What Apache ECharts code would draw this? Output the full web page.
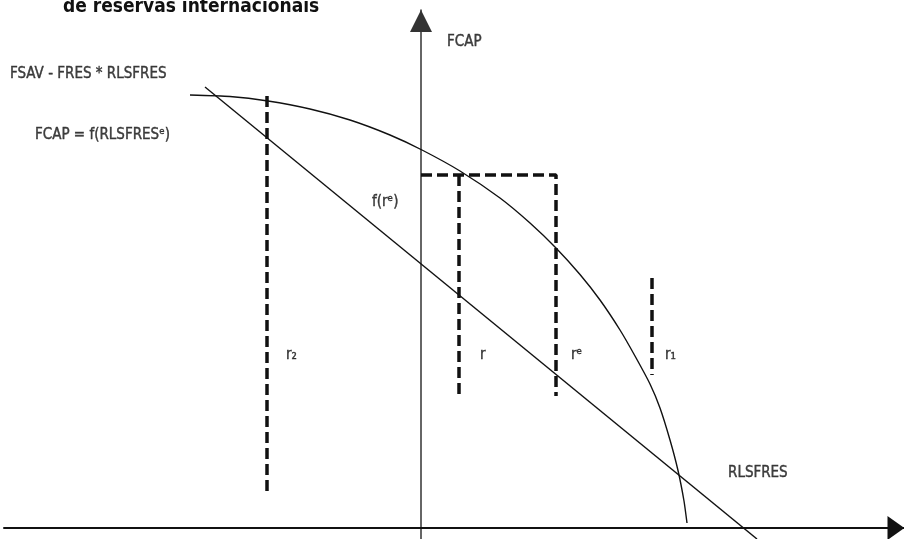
<!DOCTYPE html>
<html>
<head>
<meta charset="utf-8">
<script src="https://cdn.jsdelivr.net/npm/echarts@6/dist/echarts.min.js"></script>
<style>html,body{margin:0;padding:0;background:#fff}#c{width:904px;height:539px}</style>
</head>
<body>
<div id="c"></div>
<script>
// Curve FCAP = f(RLSFRES^e) (diagram units)
const curveX = [-23.1, -19.1, -15.3, -11.1, -7.1, -3.1, 0.1, 3.9, 7.9, 10.9, 13.5, 15.9, 17.9, 19.9, 21.4, 22.9, 23.9, 24.9, 25.7, 26.3, 26.6];
const curveY = [43.3, 43.15, 42.7, 41.9, 40.8, 39.3, 37.8, 35.7, 33.0, 30.5, 28.0, 25.35, 22.8, 19.8, 17.2, 14.4, 12.0, 8.8, 5.75, 2.7, 0.5];
// Straight line FSAV - FRES * RLSFRES
const lineX = [-21.6, 33.6];
const lineY = [44.1, -1.1];
// Dashed segments
const dashR2 = [[-15.4, 43.2], [-15.4, 3.6]];
const dashR = [[3.8, 35.3], [3.8, 13.2]];
const dashRe = [[0, 35.3], [13.5, 35.3], [13.5, 13.2]];
const dashR1 = [[23.1, 25.0], [23.1, 15.3]];
// Annotations: [x, y, text]
const labels = [
  [-41.1, 45.4, 'FSAV - FRES * RLSFRES'],
  [-38.6, 39.3, 'FCAP = f(RLSFRESᵉ)'],
  [-4.9, 32.6, 'f(rᵉ)'],
  [-13.5, 17.3, 'r₂'],
  [5.9, 17.3, 'r'],
  [15.0, 17.3, 'rᵉ'],
  [24.4, 17.3, 'r₁'],
  [30.7, 5.5, 'RLSFRES'],
  [2.6, 48.6, 'FCAP']
];
const titleText = 'de reservas internacionais';

const FONT = "'DejaVu Sans Condensed', 'DejaVu Sans', sans-serif";
const INK = '#111';
const chart = echarts.init(document.getElementById('c'));
const dashStyle = {color: INK, width: 3.5, type: [11, 5]};
function seg(d) {
  return {type: 'line', data: d, symbol: 'none', lineStyle: dashStyle, silent: true, animation: false};
}
chart.setOption({
  animation: false,
  grid: {left: 4, right: 0, top: 10, bottom: 0},
  xAxis: {
    type: 'value', min: -41.7, max: 48.3,
    splitLine: {show: false}, axisTick: {show: false}, axisLabel: {show: false},
    axisLine: {show: true, onZero: true, symbol: ['none', 'triangle'], symbolSize: [24, 17], symbolOffset: [0, -8],
      lineStyle: {color: INK, width: 2}}
  },
  yAxis: {
    type: 'value', min: -1.1, max: 51.8,
    splitLine: {show: false}, axisTick: {show: false}, axisLabel: {show: false},
    axisLine: {show: true, onZero: true, symbol: ['none', 'triangle'], symbolSize: [22, 22], symbolOffset: [0, -11],
      lineStyle: {color: '#333', width: 1.5}}
  },
  graphic: [{
    type: 'text', left: 63, top: -2,
    style: {text: titleText, font: "bold 19px 'DejaVu Sans Condensed', 'Noto Sans', sans-serif", fill: INK}
  }],
  series: [
    {type: 'line', data: curveX.map((x, i) => [x, curveY[i]]), smooth: 0.2, symbol: 'none',
      lineStyle: {color: INK, width: 1.4}},
    {type: 'line', data: lineX.map((x, i) => [x, lineY[i]]), symbol: 'none',
      lineStyle: {color: INK, width: 1.4}},
    seg(dashR2), seg(dashR), seg(dashRe), seg(dashR1),
    {type: 'scatter', symbolSize: 0, data: labels.map(l => ({value: [l[0], l[1]], name: l[2]})),
      label: {show: true, position: 'right', distance: 0, formatter: p => p.name,
        color: INK, fontSize: 15, fontFamily: FONT, textBorderColor: INK, textBorderWidth: 0.4}}
  ]
});
</script>
</body>
</html>
